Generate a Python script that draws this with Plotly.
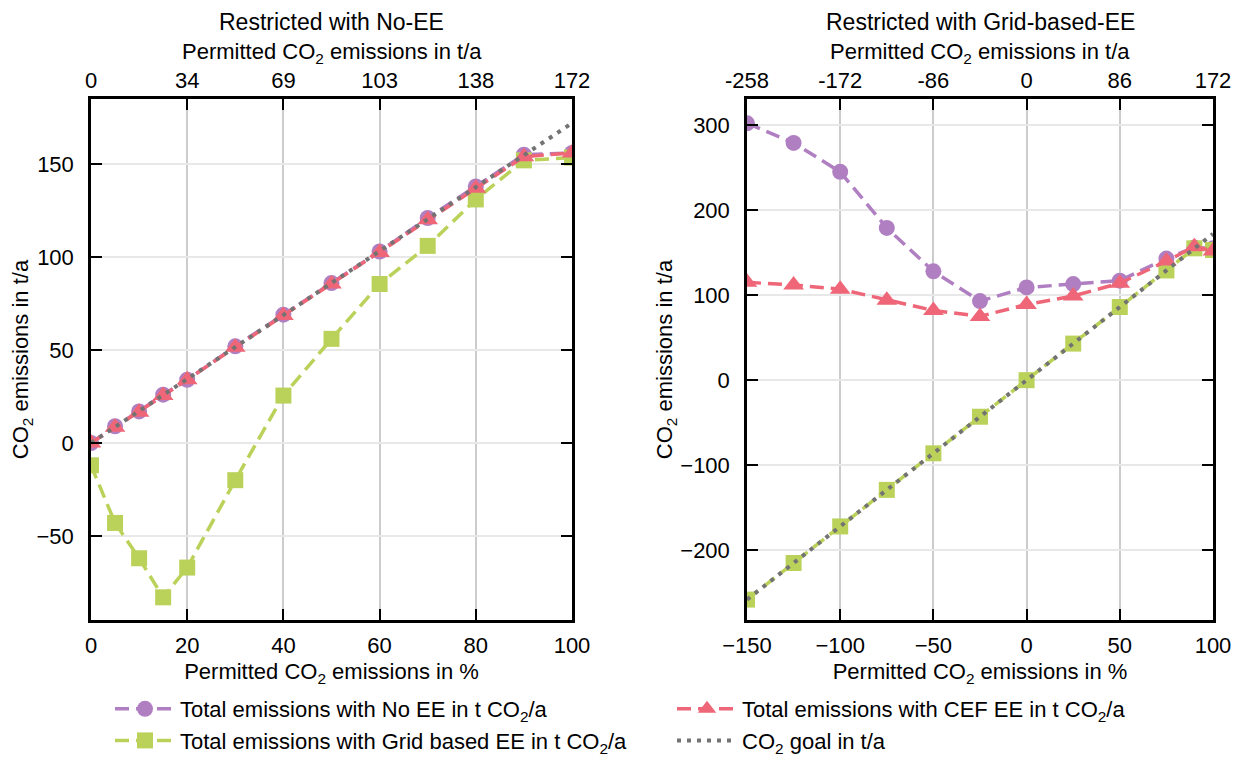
import plotly.graph_objects as go

# ---------------- data ----------------
# Left panel: Restricted with No-EE
left_x = [0, 5, 10, 15, 20, 30, 40, 50, 60, 70, 80, 90, 100]
left_no_ee = [0, 9, 17, 26, 34, 52, 69, 86, 103, 121, 138, 155, 156]
left_grid_ee = [-12, -43, -62, -83, -67, -20, 25.5, 56, 85.5, 106, 131, 152, 153.5]
left_cef_ee = [0, 8.5, 16.5, 25.5, 34, 51.5, 68.5, 85.5, 102.5, 120, 137, 154, 156]
left_goal = [0, 8.6, 17.2, 25.8, 34.4, 51.6, 68.8, 86, 103.2, 120.4, 137.6, 154.8, 172]

# Right panel: Restricted with Grid-based-EE
right_x = [-150, -125, -100, -75, -50, -25, 0, 25, 50, 75, 90, 100]
right_no_ee = [302, 279, 245, 179, 128, 93, 109, 113, 117, 143, 156, 155]
right_grid_ee = [-258, -215, -172, -129, -86, -43, 0, 43, 86, 129, 155, 153]
right_cef_ee = [115, 112, 107, 94, 82, 75, 89, 99, 114, 140, 157, 152]
right_goal = [-258, -215, -172, -129, -86, -43, 0, 43, 86, 129, 154.8, 172]

# tick labels
left_bottom_ticks = [0, 20, 40, 60, 80, 100]
left_top_labels = ["0", "34", "69", "103", "138", "172"]
right_bottom_ticks = [-150, -100, -50, 0, 50, 100]
right_top_labels = ["-258", "-172", "-86", "0", "86", "172"]
left_y_ticks = [-50, 0, 50, 100, 150]
right_y_ticks = [-200, -100, 0, 100, 200, 300]

names = [
    "Total emissions with No EE in t CO<sub>2</sub>/a",
    "Total emissions with Grid based EE in t CO<sub>2</sub>/a",
    "Total emissions with CEF EE in t CO<sub>2</sub>/a",
    "CO<sub>2</sub> goal in t/a",
]
top_axis_title = "Permitted CO<sub>2</sub> emissions in t/a"
bottom_axis_title = "Permitted CO<sub>2</sub> emissions in %"
y_axis_title = "CO<sub>2</sub> emissions in t/a"
panel_titles = ["Restricted with No-EE", "Restricted with Grid-based-EE"]

# ---------------- style ----------------
PURPLE = "#B07FC2"
GREEN = "#BBD25A"
RED = "#EE6677"
GREY = "#737373"
FONT = "Liberation Sans, Arial, sans-serif"
DASH = "14px,7px"
DOT = "4px,6px"
FS = 22

fig = go.Figure()

def add_panel(xs, no_ee, grid_ee, cef_ee, goal, xa, ya, show):
    fig.add_trace(go.Scatter(x=xs, y=no_ee, mode="lines+markers", name=names[0],
                             line=dict(color=PURPLE, width=3.5, dash=DASH),
                             marker=dict(symbol="circle", size=16, color=PURPLE),
                             xaxis=xa, yaxis=ya, showlegend=show, legendrank=1))
    fig.add_trace(go.Scatter(x=xs, y=grid_ee, mode="lines+markers", name=names[1],
                             line=dict(color=GREEN, width=3.5, dash=DASH),
                             marker=dict(symbol="square", size=16, color=GREEN),
                             xaxis=xa, yaxis=ya, showlegend=show, legendrank=3))
    fig.add_trace(go.Scatter(x=xs, y=cef_ee, mode="lines+markers", name=names[2],
                             line=dict(color=RED, width=3.5, dash=DASH),
                             marker=dict(symbol="triangle-up", size=18, color=RED),
                             xaxis=xa, yaxis=ya, showlegend=show, legendrank=2))
    fig.add_trace(go.Scatter(x=xs, y=goal, mode="lines", name=names[3],
                             line=dict(color=GREY, width=4, dash=DOT),
                             xaxis=xa, yaxis=ya, showlegend=show, legendrank=4))

add_panel(left_x, left_no_ee, left_grid_ee, left_cef_ee, left_goal, "x", "y", True)
add_panel(right_x, right_no_ee, right_grid_ee, right_cef_ee, right_goal, "x2", "y2", False)

# invisible traces to activate top axes
fig.add_trace(go.Scatter(x=[None], y=[None], xaxis="x3", yaxis="y", showlegend=False, hoverinfo="skip"))
fig.add_trace(go.Scatter(x=[None], y=[None], xaxis="x4", yaxis="y2", showlegend=False, hoverinfo="skip"))

W, H = 1240, 762
L_dom = [91 / W, 572 / W]
R_dom = [747 / W, 1213 / W]
Y_dom = [(H - 620) / H, (H - 99) / H]

tickfont = dict(family=FONT, size=FS, color="black")
titlefont = dict(family=FONT, size=FS, color="black")

common_x = dict(showline=True, linecolor="black", linewidth=2.5, mirror=True,
                ticks="inside", ticklen=11, tickwidth=2, tickcolor="black",
                showgrid=True, gridcolor="#cccccc", gridwidth=1.5, zeroline=False,
                tickfont=tickfont, automargin=False, ticklabelstandoff=4)
common_y = dict(showline=True, linecolor="black", linewidth=2.5, mirror="ticks",
                ticks="inside", ticklen=11, tickwidth=2, tickcolor="black",
                showgrid=True, gridcolor="#e8e8e8", gridwidth=1.5, zeroline=False,
                tickfont=tickfont, automargin=False, ticklabelstandoff=10)
top_x = dict(side="top", ticks="inside", ticklen=11, tickwidth=2, tickcolor="black",
             showgrid=False, zeroline=False, showline=False, tickfont=tickfont,
             automargin=False, ticklabelstandoff=6)

def text_ann(text, xc, ypx, size):
    return dict(text=text, x=xc, y=1 - ypx / H, xref="paper", yref="paper",
                showarrow=False, xanchor="center", yanchor="middle",
                font=dict(family=FONT, size=size, color="black"))

Lc = (L_dom[0] + L_dom[1]) / 2
Rc = (R_dom[0] + R_dom[1]) / 2

fig.update_layout(
    width=W, height=H,
    margin=dict(l=0, r=0, t=0, b=0),
    paper_bgcolor="white", plot_bgcolor="white",
    font=dict(family=FONT, color="black"),
    xaxis=dict(domain=L_dom, range=[0, 100], anchor="y", tickvals=left_bottom_ticks,
               title=dict(text=bottom_axis_title, font=titlefont, standoff=7),
               **common_x),
    yaxis=dict(domain=Y_dom, range=[-95.2, 185], anchor="x", tickvals=left_y_ticks,
               title=dict(text=y_axis_title, font=titlefont, standoff=2),
               **common_y),
    xaxis2=dict(domain=R_dom, range=[-150, 100], anchor="y2", tickvals=right_bottom_ticks,
                title=dict(text=bottom_axis_title, font=titlefont, standoff=7),
                **common_x),
    yaxis2=dict(domain=Y_dom, range=[-282, 330.6], anchor="x2", tickvals=right_y_ticks,
                title=dict(text=y_axis_title, font=titlefont, standoff=2),
                **common_y),
    xaxis3=dict(overlaying="x", anchor="y", range=[0, 100], tickvals=left_bottom_ticks,
                ticktext=left_top_labels, **top_x),
    xaxis4=dict(overlaying="x2", anchor="y2", range=[-150, 100], tickvals=right_bottom_ticks,
                ticktext=right_top_labels, **top_x),
    legend=dict(orientation="h", x=110 / W, xanchor="left", y=0, yanchor="bottom",
                entrywidth=487, entrywidthmode="pixels", itemwidth=60,
                font=dict(family=FONT, size=22, color="black"),
                bgcolor="rgba(0,0,0,0)", tracegroupgap=0),
    annotations=[
        text_ann(panel_titles[0], Lc, 22, 23),
        text_ann(panel_titles[1], Rc, 22, 23),
        text_ann(top_axis_title, Lc, 53, FS),
        text_ann(top_axis_title, Rc, 53, FS),
    ],
)

fig.write_html("out.html")
